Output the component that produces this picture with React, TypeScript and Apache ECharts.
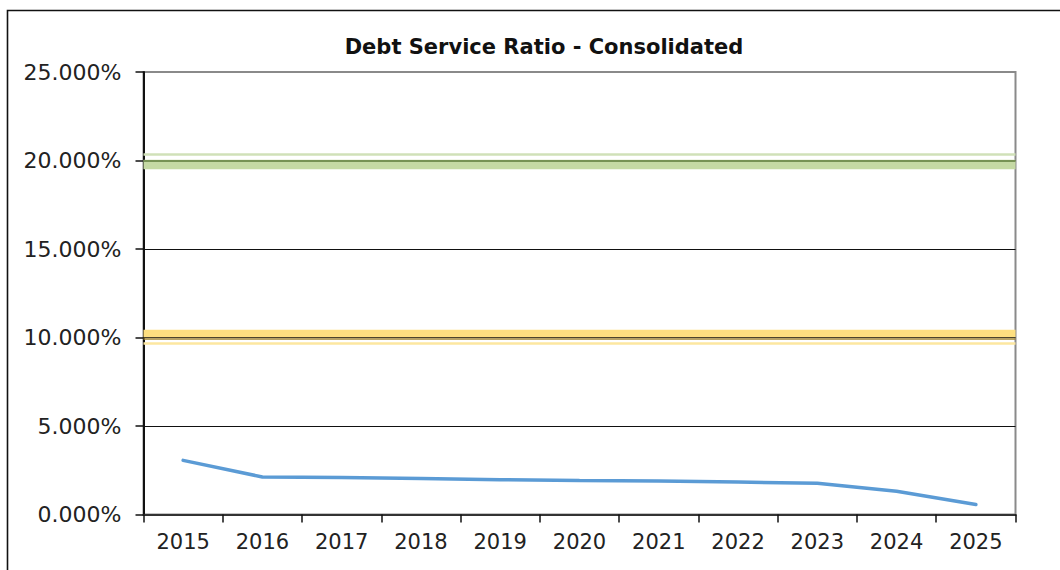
import React, { useEffect, useRef } from "react";
import * as echarts from "echarts";

const years = ["2015", "2016", "2017", "2018", "2019", "2020", "2021", "2022", "2023", "2024", "2025"];
const debtServiceRatio = [3.06, 2.12, 2.09, 2.03, 1.97, 1.92, 1.89, 1.83, 1.77, 1.31, 0.56];
// threshold reference lines (percent): main line, wide band, thin light strip
const greenThreshold = [20.0, 19.81, 20.33];
const yellowThreshold = [9.93, 10.23, 9.69];
const yMin = 0;
const yMax = 25;
const yStep = 5;

export default function App() {
  const ref = useRef<HTMLDivElement>(null);
  useEffect(() => {
    if (!ref.current) return;
    const chart = echarts.init(ref.current, null, { renderer: "svg" });
    const font = "DejaVu Sans";
    chart.setOption({
      animation: false,
      backgroundColor: "#ffffff",
      title: {
        text: "Debt Service Ratio - Consolidated",
        left: 539,
        textAlign: "center",
        top: 31,
        textStyle: { fontFamily: font, fontWeight: "bold", fontSize: 21, color: "#111" },
      },
      graphic: [
        {
          type: "rect",
          shape: { x: 7.5, y: 10.5, width: 1200, height: 700 },
          style: { fill: "none", stroke: "#111", lineWidth: 1.6 },
          silent: true,
        },
      ],
      grid: {
        left: 143.5,
        right: 44.5,
        top: 72,
        bottom: 55.5,
        show: true,
        borderColor: "#8a8a8a",
        borderWidth: 2,
      },
      xAxis: {
        type: "category",
        data: years,
        boundaryGap: true,
        axisLine: { show: true, lineStyle: { color: "#333", width: 2 } },
        axisTick: { show: true, interval: 0, length: 8, lineStyle: { color: "#111", width: 1.5 } },
        axisLabel: { interval: 0, margin: 17, fontFamily: font, fontSize: 21, color: "#222" },
        splitLine: { show: false },
      },
      yAxis: {
        type: "value",
        min: yMin,
        max: yMax,
        interval: yStep,
        axisLine: { show: true, lineStyle: { color: "#111", width: 2 } },
        axisTick: { show: true, length: 8, lineStyle: { color: "#111", width: 1.5 } },
        axisLabel: {
          margin: 22,
          fontFamily: font,
          fontSize: 22,
          color: "#222",
          formatter: (v: number) => v.toFixed(3) + "%",
        },
        splitLine: {
          show: true,
          lineStyle: { color: ["#111", "#111", "#111", "#111", "#111", "#8a8a8a"], width: 1.2 },
        },
      },
      series: [
        {
          type: "line",
          data: debtServiceRatio,
          symbol: "none",
          lineStyle: { color: "#5b9bd5", width: 3.5, cap: "round" },
          z: 5,
          markLine: {
            silent: true,
            symbol: ["none", "none"],
            label: { show: false },
            data: [
              { yAxis: greenThreshold[1], lineStyle: { color: "#c5d9a4", width: 9.4, type: "solid" } },
              { yAxis: greenThreshold[2], lineStyle: { color: "#d0e1b8", width: 2.7, type: "solid" } },
              { yAxis: greenThreshold[0], lineStyle: { color: "#5c7a3b", width: 1.6, type: "solid" } },
              { yAxis: yellowThreshold[1], lineStyle: { color: "#fddf80", width: 7.3, type: "solid" } },
              { yAxis: yellowThreshold[2], lineStyle: { color: "#fde7a0", width: 2.7, type: "solid" } },
              { yAxis: yellowThreshold[0], lineStyle: { color: "#9c8230", width: 1.6, type: "solid" } },
            ],
          },
        },
      ],
    });
    return () => chart.dispose();
  }, []);
  return (
    <div
      ref={ref}
      style={{ position: "fixed", left: 0, top: 0, width: 1060, height: 570, background: "#fff" }}
    />
  );
}
